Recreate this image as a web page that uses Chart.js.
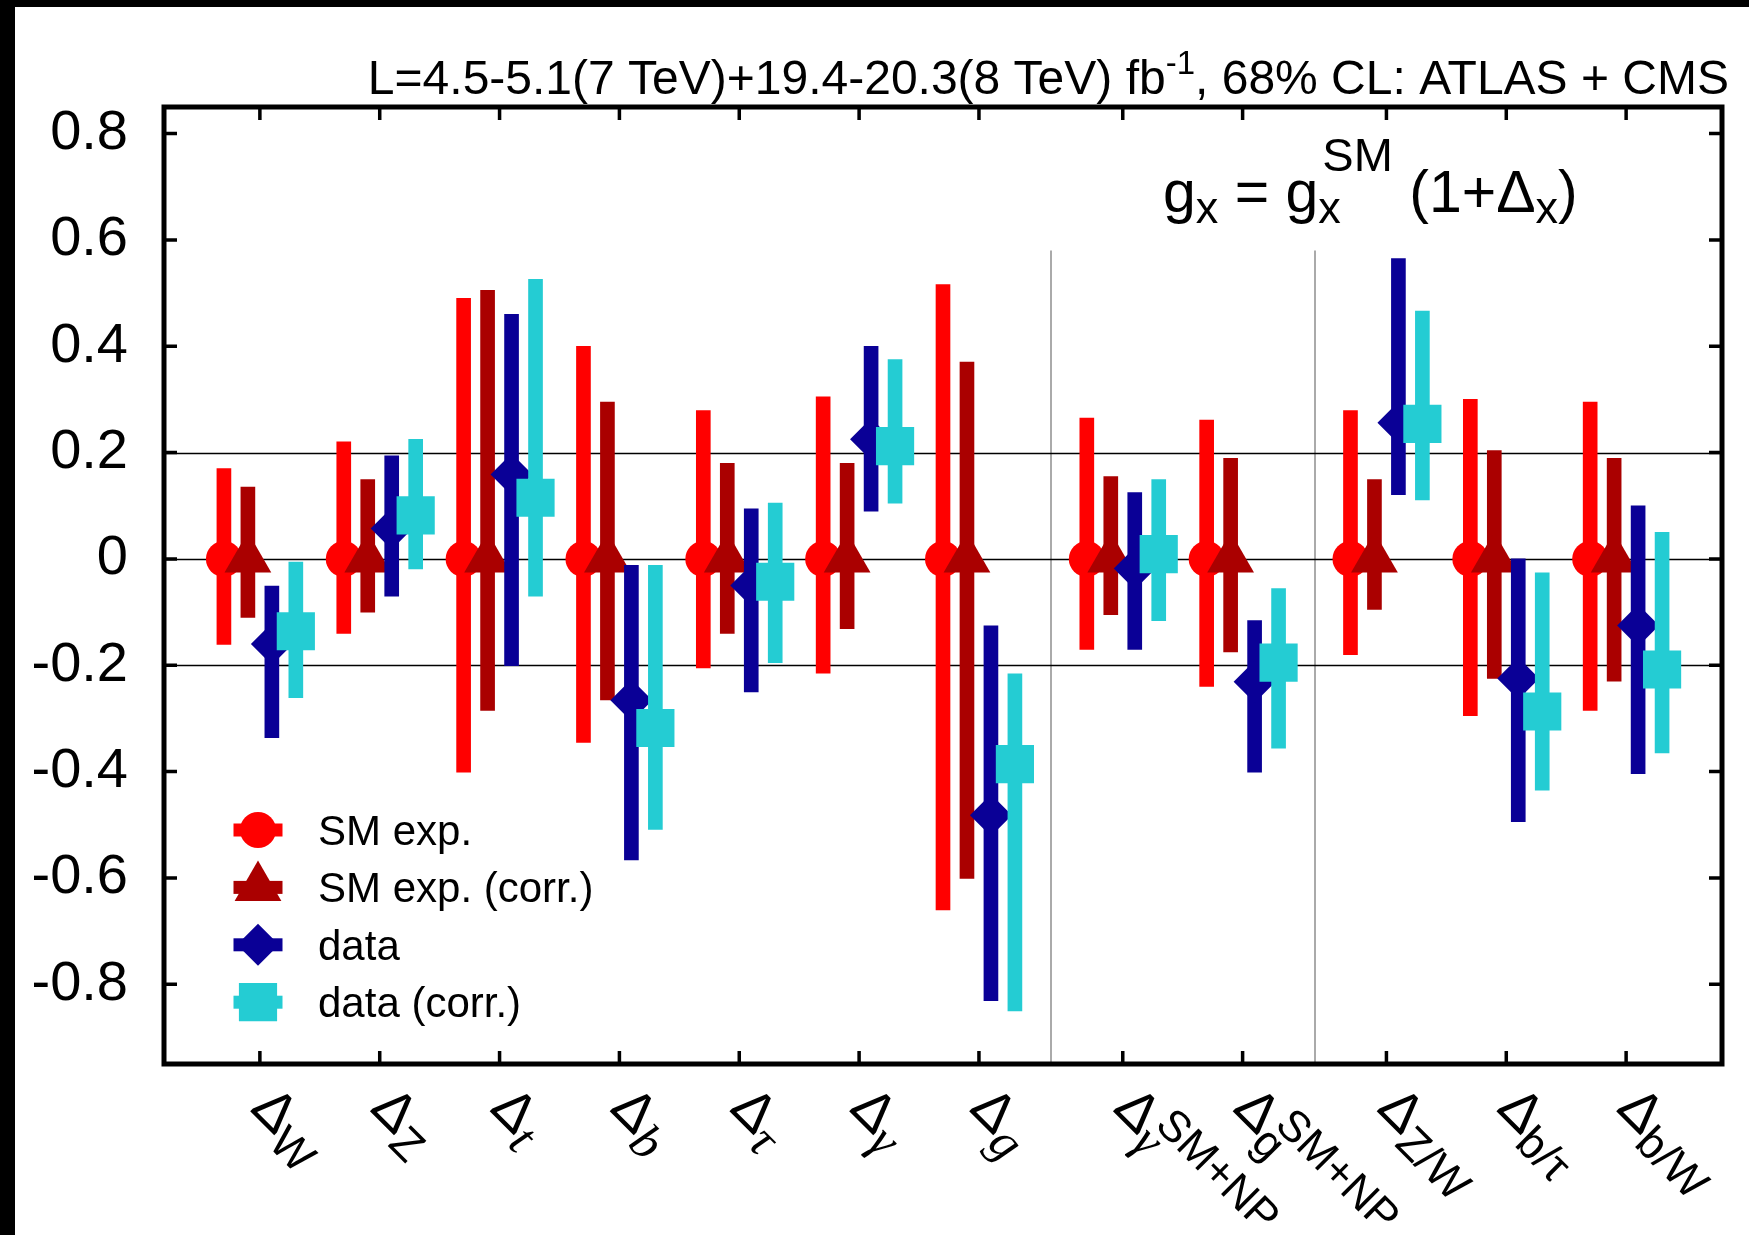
<!DOCTYPE html>
<html>
<head>
<meta charset="utf-8">
<title>Coupling ratios - ATLAS + CMS</title>
<script src="https://cdn.jsdelivr.net/npm/chart.js@4.4.1/dist/chart.umd.min.js"></script>
<style>
  html, body { margin: 0; padding: 0; background: #fff; }
  #wrap { position: relative; width: 1749px; height: 1235px; }
</style>
</head>
<body>
<div id="wrap"><canvas id="couplings" width="1749" height="1235"></canvas></div>
<script>
// Categories (Delta_x labels) and where they sit on the x axis
const categories = ['W', 'Z', 't', 'b', 'τ', 'γ', 'g', 'γ', 'g', 'Z/W', 'b/τ', 'b/W'];
const categorySup = ['', '', '', '', '', '', '', 'SM+NP', 'SM+NP', '', '', ''];
const categoryItalic = [false, false, true, true, true, true, true, true, false, false, false, false];
const categoryPos = [0, 1, 2, 3, 4, 5, 6, 7.2, 8.2, 9.4, 10.4, 11.4];
const groupSeparators = [6.6, 8.8];

// SM expected
const smExpCenter = [0, 0, 0, 0, 0, 0, 0, 0, 0, 0, 0, 0];
const smExpHigh = [0.170, 0.220, 0.490, 0.400, 0.279, 0.305, 0.516, 0.265, 0.261, 0.279, 0.300, 0.295];
const smExpLow = [-0.161, -0.140, -0.401, -0.345, -0.205, -0.215, -0.660, -0.170, -0.240, -0.180, -0.295, -0.285];

// SM expected (corr.)
const smCorrCenter = [0, 0, 0, 0, 0, 0, 0, 0, 0, 0, 0, 0];
const smCorrHigh = [0.135, 0.149, 0.505, 0.295, 0.180, 0.180, 0.370, 0.155, 0.189, 0.149, 0.204, 0.189];
const smCorrLow = [-0.110, -0.100, -0.285, -0.265, -0.140, -0.131, -0.601, -0.105, -0.175, -0.095, -0.225, -0.230];

// data
const dataCenter = [-0.160, 0.057, 0.159, -0.266, -0.050, 0.225, -0.482, -0.018, -0.231, 0.256, -0.225, -0.125];
const dataHigh = [-0.051, 0.194, 0.460, -0.012, 0.094, 0.400, -0.126, 0.125, -0.116, 0.565, 0.000, 0.100];
const dataLow = [-0.336, -0.070, -0.201, -0.566, -0.250, 0.090, -0.831, -0.170, -0.401, 0.121, -0.494, -0.404];

// data (corr.)
const dataCorrCenter = [-0.136, 0.082, 0.115, -0.318, -0.043, 0.212, -0.386, 0.009, -0.195, 0.254, -0.287, -0.208];
const dataCorrHigh = [-0.006, 0.225, 0.526, -0.012, 0.105, 0.375, -0.216, 0.149, -0.056, 0.466, -0.026, 0.050];
const dataCorrLow = [-0.261, -0.019, -0.070, -0.509, -0.195, 0.105, -0.850, -0.116, -0.356, 0.111, -0.435, -0.365];

const yTicks = [-0.8, -0.6, -0.4, -0.2, 0, 0.2, 0.4, 0.6, 0.8];
const yTickLabels = ['-0.8', '-0.6', '-0.4', '-0.2', '0', '0.2', '0.4', '0.6', '0.8'];
const refLines = [0.2, 0, -0.2];
const seriesNames = ['SM exp.', 'SM exp. (corr.)', 'data', 'data (corr.)'];

const titleMain = 'L=4.5-5.1(7 TeV)+19.4-20.3(8 TeV) fb';
const titleSup = '-1';
const titleTail = ', 68% CL: ATLAS + CMS';

const FONT = '"Liberation Sans", Arial, Helvetica, sans-serif';
const SERIF = '"Liberation Serif", "DejaVu Serif", serif';

const series = [
    { name: seriesNames[0], center: smExpCenter, low: smExpLow, high: smExpHigh, color: '#ff0000', offset: -0.3, style: 'circle', radius: 18 },
    { name: seriesNames[1], center: smCorrCenter, low: smCorrLow, high: smCorrHigh, color: '#aa0000', offset: -0.1, style: 'triangle', radius: 27 },
    { name: seriesNames[2], center: dataCenter, low: dataLow, high: dataHigh, color: '#0a0096', offset: 0.1, style: 'rectRot', radius: 21 },
    { name: seriesNames[3], center: dataCorrCenter, low: dataCorrLow, high: dataCorrHigh, color: '#24ccd3', offset: 0.3, style: 'rect', radius: 27 }
];

// error bars as floating bars, markers as scatter points
const datasets = [];
series.forEach((s, k) => {
    datasets.push({
        type: 'bar',
        label: s.name + ' error',
        data: categoryPos.map((p, i) => ({ x: p + s.offset, y: [s.low[i], s.high[i]] })),
        backgroundColor: s.color,
        borderWidth: 0,
        barThickness: 14,
        grouped: false,
        order: 20 - 2 * k
    });
    datasets.push({
        type: 'scatter',
        label: s.name,
        data: categoryPos.map((p, i) => ({ x: p + s.offset, y: s.center[i] })),
        pointStyle: s.style,
        pointRadius: s.radius,
        pointBackgroundColor: s.color,
        pointBorderColor: s.color,
        pointBorderWidth: 0,
        showLine: false,
        order: 19 - 2 * k
    });
});

function drawShape(ctx, style, r, cx, cy) {
    ctx.beginPath();
    if (style === 'circle') {
        ctx.arc(cx, cy, r, 0, Math.PI * 2);
    } else if (style === 'triangle') {
        const hw = r * Math.sin(2 * Math.PI / 3);
        ctx.moveTo(cx, cy - r);
        ctx.lineTo(cx + hw, cy + r / 2);
        ctx.lineTo(cx - hw, cy + r / 2);
    } else if (style === 'rectRot') {
        ctx.moveTo(cx - r, cy);
        ctx.lineTo(cx, cy - r);
        ctx.lineTo(cx + r, cy);
        ctx.lineTo(cx, cy + r);
    } else {
        const h = r * Math.SQRT1_2;
        ctx.rect(cx - h, cy - h, 2 * h, 2 * h);
    }
    ctx.closePath();
    ctx.fill();
}

// draws a row of text pieces; a piece may stack a subscript and a superscript
function drawRuns(ctx, x, y, runs) {
    runs.forEach(r => {
        const parts = r.stack || [r];
        let adv = 0;
        parts.forEach(p => {
            ctx.font = p.font;
            ctx.fillText(p.t, x + (p.dx || 0), y + (p.dy || 0));
            adv = Math.max(adv, ctx.measureText(p.t).width + (p.dx || 0));
        });
        x += adv;
    });
    return x;
}

function runsWidth(ctx, runs) {
    let w = 0;
    runs.forEach(r => {
        const parts = r.stack || [r];
        let adv = 0;
        parts.forEach(p => { ctx.font = p.font; adv = Math.max(adv, ctx.measureText(p.t).width + (p.dx || 0)); });
        w += adv;
    });
    return w;
}

const decorations = {
    id: 'decorations',
    beforeDraw(chart) {
        const ctx = chart.ctx;
        ctx.save();
        ctx.fillStyle = '#000';
        ctx.fillRect(0, 0, 15, chart.height);
        ctx.fillRect(0, 0, chart.width, 7);
        ctx.restore();
    },
    beforeDatasetsDraw(chart) {
        const { ctx, chartArea: a, scales: { x, y } } = chart;
        ctx.save();
        ctx.strokeStyle = '#aaaaaa';
        ctx.lineWidth = 2;
        groupSeparators.forEach(v => {
            const px = Math.round(x.getPixelForValue(v));
            ctx.beginPath();
            ctx.moveTo(px, y.getPixelForValue(0.58));
            ctx.lineTo(px, a.bottom);
            ctx.stroke();
        });
        ctx.strokeStyle = '#000';
        ctx.lineWidth = 1.6;
        refLines.forEach(v => {
            const py = Math.round(y.getPixelForValue(v)) + 0.5;
            ctx.beginPath();
            ctx.moveTo(a.left, py);
            ctx.lineTo(a.right, py);
            ctx.stroke();
        });
        ctx.restore();
    },
    afterDraw(chart) {
        const { ctx, chartArea: a, scales: { x, y } } = chart;
        ctx.save();

        // frame and inward ticks
        ctx.strokeStyle = '#000';
        ctx.lineWidth = 5;
        ctx.strokeRect(a.left, a.top, a.right - a.left, a.bottom - a.top);
        ctx.lineWidth = 3.5;
        ctx.beginPath();
        yTicks.forEach(v => {
            const py = y.getPixelForValue(v);
            ctx.moveTo(a.left, py); ctx.lineTo(a.left + 13, py);
            ctx.moveTo(a.right, py); ctx.lineTo(a.right - 13, py);
        });
        categoryPos.forEach(v => {
            const px = x.getPixelForValue(v);
            ctx.moveTo(px, a.top); ctx.lineTo(px, a.top + 13);
            ctx.moveTo(px, a.bottom); ctx.lineTo(px, a.bottom - 13);
        });
        ctx.stroke();

        ctx.fillStyle = '#000';
        ctx.textAlign = 'left';
        ctx.textBaseline = 'alphabetic';

        // rotated category labels
        categories.forEach((c, i) => {
            const px = x.getPixelForValue(categoryPos[i]);
            ctx.save();
            ctx.translate(px - 11, a.bottom + 46);
            ctx.rotate(Math.PI / 4);
            const sub = { t: c, font: categoryItalic[i] ? 'italic 50px ' + SERIF : '45px ' + FONT, dy: 12 };
            const runs = [{ t: 'Δ', font: '56px ' + FONT }];
            if (categorySup[i]) {
                runs.push({ stack: [sub, { t: categorySup[i], font: '44px ' + FONT, dy: -18, dx: 4 }] });
            } else {
                runs.push(sub);
            }
            drawRuns(ctx, 0, 0, runs);
            ctx.restore();
        });

        // legend
        const legX = a.left + 94;
        const legY0 = a.bottom - 234;
        series.forEach((s, k) => {
            const cy = legY0 + k * 57.4;
            ctx.fillStyle = s.color;
            ctx.fillRect(legX - 24.5, cy - 6.5, 49, 13);
            drawShape(ctx, s.style, s.radius, legX, cy);
            ctx.fillStyle = '#000';
            ctx.font = '42px ' + FONT;
            ctx.fillText(s.name, a.left + 154, cy + 15);
        });

        // title above the frame, right aligned
        const titleRuns = [
            { t: titleMain, font: '48px ' + FONT },
            { t: titleSup, font: '33px ' + FONT, dy: -20 },
            { t: titleTail, font: '48px ' + FONT }
        ];
        const tw = runsWidth(ctx, titleRuns);
        drawRuns(ctx, 1729 - tw, a.top - 13, titleRuns);

        // coupling definition
        const big = '59px ' + FONT, small = '45px ' + FONT;
        drawRuns(ctx, 1163, a.top + 105, [
            { t: 'g', font: big },
            { t: 'x', font: small, dy: 11 },
            { t: ' = g', font: big },
            { stack: [{ t: 'x', font: small, dy: 11 }, { t: 'SM', font: '47px ' + FONT, dy: -41, dx: 4 }] },
            { t: ' (1+Δ', font: big },
            { t: 'x', font: small, dy: 11 },
            { t: ')', font: big }
        ]);

        ctx.restore();
    }
};

new Chart(document.getElementById('couplings'), {
    type: 'bar',
    data: { datasets: datasets },
    options: {
        responsive: false,
        devicePixelRatio: 1,
        animation: false,
        events: [],
        layout: { padding: { left: 0, right: 16, top: 107, bottom: 171 } },
        plugins: {
            legend: { display: false },
            tooltip: { enabled: false },
            title: { display: false }
        },
        scales: {
            x: { type: 'linear', display: false, min: -0.8, max: 12.2, offset: false },
            y: {
                type: 'linear',
                min: -0.95,
                max: 0.85,
                afterBuildTicks: s => { s.ticks = yTicks.map(v => ({ value: v })); },
                afterFit: s => { s.width = 164; },
                grid: { display: false, drawTicks: false, tickLength: 0 },
                border: { display: false },
                ticks: {
                    color: '#000',
                    padding: 36,
                    font: { family: FONT, size: 56 },
                    callback: (v, i) => yTickLabels[i]
                }
            }
        }
    },
    plugins: [decorations]
});
</script>
</body>
</html>
